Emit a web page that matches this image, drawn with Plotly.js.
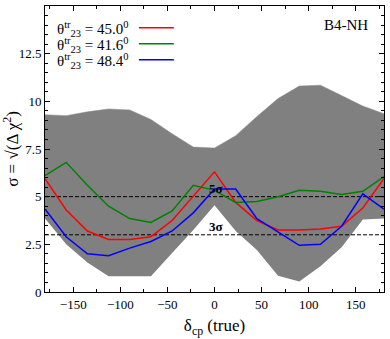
<!DOCTYPE html>
<html>
<head>
<meta charset="utf-8">
<script src="https://cdn.plot.ly/plotly-3.0.1.min.js"></script>
<style>
  html, body { margin: 0; padding: 0; background: #fff; }
  #plot { width: 390px; height: 339px; }
</style>
</head>
<body>
<div id="plot"></div>
<script>
// true delta_cp grid (degrees)
const deltaCP = [-180, -157.5, -135, -112.5, -90, -67.5, -45, -22.5, 0,
                 22.5, 45, 67.5, 90, 112.5, 135, 157.5, 180];

// gray band: sigma range over the full theta23 scan
const bandLow = [3.85, 2.5, 1.55, 0.82, 0.82, 0.82, 2.05, 3.25, 4.55,
                 3.2, 2.2, 0.85, 0.55, 1.35, 2.35, 3.8, 3.85];
const bandHigh = [9.3, 9.25, 9.45, 9.6, 9.55, 9.05, 8.3, 7.6, 7.55,
                  8.2, 9.2, 10.15, 10.8, 10.85, 10.3, 9.75, 9.35];

// sigma for the three true theta23 values
const sig450 = [5.95, 4.3, 3.2, 2.75, 2.75, 2.9, 3.75, 5.05, 6.3,
                4.7, 3.75, 3.25, 3.25, 3.3, 3.45, 4.4, 5.95];
const sig416 = [6.1, 6.8, 5.6, 4.5, 3.85, 3.65, 4.25, 5.6, 5.33,
                4.7, 4.75, 5.0, 5.33, 5.28, 5.12, 5.28, 6.05];
const sig484 = [4.35, 2.9, 2.0, 1.9, 2.3, 2.65, 3.2, 4.15, 5.4,
                5.4, 3.85, 3.15, 2.45, 2.5, 3.45, 5.15, 4.35];

const sigmaLevels = [5, 3];
const sigmaLabels = ['5σ', '3σ'];
const xEnds = [-180, 180];

const legendNames = ['θ<sup>tr</sup><sub>23</sub> = 45.0<sup>0</sup>',
                     'θ<sup>tr</sup><sub>23</sub> = 41.6<sup>0</sup>',
                     'θ<sup>tr</sup><sub>23</sub> = 48.4<sup>0</sup>'];
const colors = ['#ff0000', '#008000', '#0000ff'];

const serif = 'Liberation Serif, Times New Roman, serif';

const data = [];

// band: lower edge first, then upper filled down to it
data.push({
    x: deltaCP, y: bandLow, mode: 'lines',
    line: { color: 'rgba(0,0,0,0)', width: 0 },
    showlegend: false, hoverinfo: 'skip'
});
data.push({
    x: deltaCP, y: bandHigh, mode: 'lines',
    line: { color: '#8a8a8a', width: 0.5 },
    fill: 'tonexty', fillcolor: '#808080',
    showlegend: false, hoverinfo: 'skip'
});

// 5 sigma and 3 sigma reference lines
sigmaLevels.forEach(lv => {
    data.push({
        x: xEnds, y: [lv, lv], mode: 'lines',
        line: { color: 'black', width: 1, dash: '4px,2px' },
        showlegend: false, hoverinfo: 'skip'
    });
});

[sig450, sig416, sig484].forEach((s, i) => {
    data.push({
        x: deltaCP, y: s, mode: 'lines',
        line: { color: colors[i], width: 1.5 },
        name: legendNames[i], showlegend: false
    });
});

const annotations = [];
const shapes = [];

// legend drawn by hand: text left, line sample right
legendNames.forEach((nm, i) => {
    const yp = 0.92 - i * 0.056;
    annotations.push({
        xref: 'paper', yref: 'paper', x: 0.03, y: yp,
        xanchor: 'left', yanchor: 'middle', showarrow: false,
        text: nm, font: { family: serif, size: 15, color: 'black' }
    });
    shapes.push({
        type: 'line', xref: 'paper', yref: 'paper',
        x0: 0.277, x1: 0.38, y0: yp + 0.004, y1: yp + 0.004,
        line: { color: colors[i], width: 1.5 }
    });
});

annotations.push({
    xref: 'paper', yref: 'paper', x: 0.96, y: 0.935,
    xanchor: 'right', yanchor: 'middle', showarrow: false,
    text: 'B4-NH', font: { family: serif, size: 15, color: 'black' }
});

sigmaLevels.forEach((lv, i) => {
    annotations.push({
        x: 2, y: lv, yanchor: 'bottom', xanchor: 'center', showarrow: false,
        yshift: -1, text: '<b>' + sigmaLabels[i] + '</b>',
        font: { family: serif, size: 13, color: 'black' }
    });
});

const layout = {
    width: 390, height: 339,
    margin: { l: 45, r: 6, t: 6, b: 47 },
    paper_bgcolor: 'white', plot_bgcolor: 'white',
    font: { family: serif, size: 13, color: 'black' },
    showlegend: false,
    xaxis: {
        range: [-180, 180], tick0: 0, dtick: 50,
        ticks: 'inside', ticklen: 5, tickwidth: 1, tickcolor: 'black',
        minor: { dtick: 25, ticks: 'inside', ticklen: 3, tickcolor: 'black' },
        showline: true, linecolor: 'black', linewidth: 1, mirror: 'ticks',
        showgrid: false, zeroline: false,
        tickfont: { family: serif, size: 13 },
        title: { text: 'δ<sub>cp</sub> (true)', font: { family: serif, size: 17 }, standoff: 8 }
    },
    yaxis: {
        range: [0, 15], tick0: 0, dtick: 2.5,
        ticks: 'inside', ticklen: 5, tickwidth: 1, tickcolor: 'black',
        minor: { dtick: 0.5, ticks: 'inside', ticklen: 3, tickcolor: 'black' },
        showline: true, linecolor: 'black', linewidth: 1, mirror: 'ticks',
        showgrid: false, zeroline: false,
        tickfont: { family: serif, size: 13 },
        title: { text: 'σ = √(Δ χ<sup>2</sup>)', font: { family: serif, size: 17 }, standoff: 4 }
    },
    annotations: annotations,
    shapes: shapes
};

Plotly.newPlot('plot', data, layout, { displayModeBar: false, staticPlot: true });
</script>
</body>
</html>
